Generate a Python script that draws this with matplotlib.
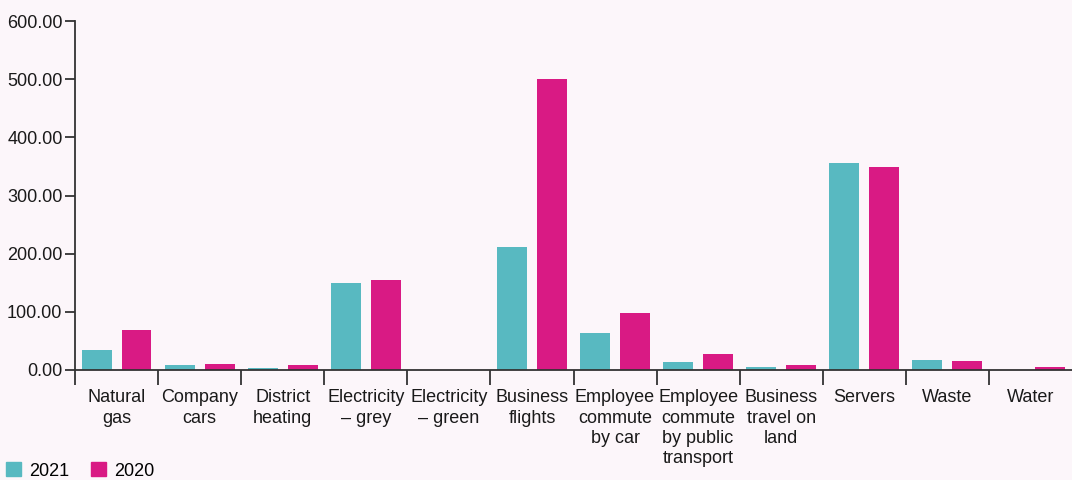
import numpy as np
import matplotlib.pyplot as plt
from matplotlib.patches import Patch

plt.rcParams['font.family'] = ['Liberation Sans', 'DejaVu Sans']

categories = ["Natural\ngas", "Company\ncars", "District\nheating", "Electricity\n\u2013 grey",
              "Electricity\n\u2013 green", "Business\nflights", "Employee\ncommute\nby car",
              "Employee\ncommute\nby public\ntransport", "Business\ntravel on\nland",
              "Servers", "Waste", "Water"]
values_2021 = [34, 8, 4, 150, 0.5, 211, 63, 14, 6, 356, 17, 0.5]
values_2020 = [68, 11, 8, 155, 0.5, 500, 98, 27, 8, 349, 15, 5]
yticks = [0, 100, 200, 300, 400, 500, 600]

teal = '#58b9c1'
pink = '#d91a84'
bg = '#fcf6fa'
axc = '#333333'

fig = plt.figure(figsize=(10.72, 4.8), dpi=100, facecolor=bg)
ax = fig.add_axes([75/1072, 110/480, 997/1072, 349/480], facecolor=bg)

x = np.arange(len(categories))
w = 0.36
ax.bar(x - 0.24, values_2021, w, color=teal)
ax.bar(x + 0.24, values_2020, w, color=pink)

ax.set_xlim(-0.5, len(categories) - 0.5)
ax.set_ylim(0, 600)
ax.set_yticks(yticks)
ax.set_yticklabels(['%.2f' % v for v in yticks])

ax.set_xticks(x)
ax.set_xticklabels(categories, linespacing=1.25)
ax.set_xticks(np.arange(len(categories)) - 0.5, minor=True)
ax.tick_params(axis='x', which='major', length=0, labelsize=13, pad=14, colors='#1a1a1a')
ax.tick_params(axis='x', which='minor', length=11, width=1.3, color=axc)
ax.tick_params(axis='y', length=7, width=1.3, color=axc, labelsize=13, pad=2, labelcolor='#1a1a1a')

for s in ['top', 'right']:
    ax.spines[s].set_visible(False)
for s in ['left', 'bottom']:
    ax.spines[s].set_color(axc)
    ax.spines[s].set_linewidth(1.3)

handles = [Patch(color=teal, label='2021'), Patch(color=pink, label='2020')]
fig.legend(handles=handles, loc='lower left', bbox_to_anchor=(-0.003, -0.018), ncol=2,
           frameon=False, fontsize=13, handlelength=0.83, handleheight=0.83,
           handletextpad=0.45, columnspacing=1.2, borderaxespad=0.1)

fig.savefig('out.png', dpi=100, facecolor=bg)
